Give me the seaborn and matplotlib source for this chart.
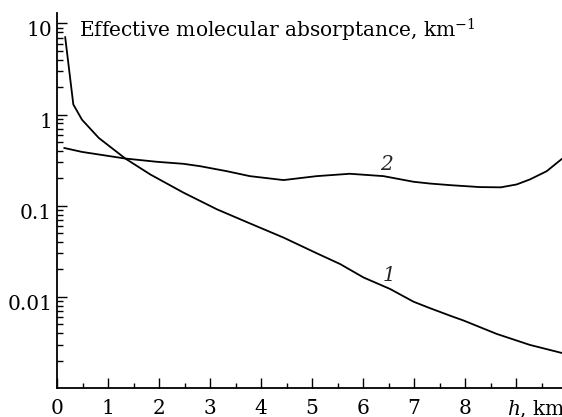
import numpy as np
import pandas as pd
import matplotlib
matplotlib.use("Agg")
import matplotlib.pyplot as plt
import matplotlib.transforms as mtransforms
import seaborn as sns

# Curve 1
h1 = [0.16, 0.32, 0.49, 0.82, 1.34, 1.83, 2.48, 3.14, 3.78, 4.44, 5.09, 5.55, 6.01, 6.53, 6.99, 7.31, 7.71, 7.97, 8.62, 9.27, 9.9]
k1 = [7.1, 1.29, 0.877, 0.553, 0.329, 0.220, 0.139, 0.091, 0.064, 0.0447, 0.0301, 0.0229, 0.0163, 0.0122, 0.00884, 0.00752, 0.0062, 0.0055, 0.00392, 0.00297, 0.00242]
# Curve 2
h2 = [0.14, 0.49, 1.34, 1.96, 2.48, 2.81, 3.33, 3.78, 4.44, 5.09, 5.74, 6.40, 6.99, 7.31, 7.71, 8.29, 8.7, 9.01, 9.27, 9.6, 9.9]
k2 = [0.43, 0.389, 0.329, 0.303, 0.288, 0.271, 0.239, 0.211, 0.191, 0.211, 0.224, 0.211, 0.183, 0.175, 0.168, 0.160, 0.159, 0.171, 0.194, 0.239, 0.327]

xtick_vals = [0, 1, 2, 3, 4, 5, 6, 7, 8]
xtick_labels = ["0", "1", "2", "3", "4", "5", "6", "7", "8"]
ytick_vals = [0.01, 0.1, 1, 10]
ytick_labels = ["0.01", "0.1", "1", "10"]
title = "Effective molecular absorptance, km$^{-1}$"
xlabel = "$h$, km"
curve_labels = ["1", "2"]

sns.set_theme(style="ticks")
plt.rcParams["font.family"] = ["DejaVu Serif"]
plt.rcParams["mathtext.fontset"] = "dejavuserif"

df = pd.concat([
    pd.DataFrame({"h": h1, "k": k1, "curve": "1"}),
    pd.DataFrame({"h": h2, "k": k2, "curve": "2"}),
])

W, H = 562, 417
fig = plt.figure(figsize=(W / 100, H / 100), dpi=100)
ax = fig.add_axes([57 / W, (H - 388) / H, 505 / W, (388 - 13) / H])

sns.lineplot(data=df, x="h", y="k", units="curve", estimator=None,
             color="black", lw=1.3, ax=ax, legend=False, sort=False)
ax.set_yscale("log")
ax.set_xlim(0, 9.9)
ax.set_ylim(0.001, 13)

ax.set_xticks(xtick_vals + [9])
ax.set_xticklabels(xtick_labels + [""])
ax.set_xticks(np.arange(0.5, 10, 1.0), minor=True)
ax.set_yticks(ytick_vals)
ax.set_yticklabels(ytick_labels)
ax.yaxis.set_minor_locator(matplotlib.ticker.LogLocator(base=10, subs=np.arange(2, 10)))
ax.yaxis.set_minor_formatter(matplotlib.ticker.NullFormatter())

fs = 14.5
ax.tick_params(axis="both", which="major", direction="in", length=7.5, width=1.0,
               labelsize=fs, color="black", labelcolor="black")
ax.tick_params(axis="both", which="minor", direction="in", length=3.5, width=1.0, color="black")
ax.tick_params(axis="y", which="major", pad=3.5)
ax.tick_params(axis="y", which="minor", length=4)
ax.tick_params(axis="x", which="major", pad=8)

for lab in ax.get_yticklabels():
    lab.set_verticalalignment("top")
    lab.set_transform(lab.get_transform() + mtransforms.ScaledTranslation(0, 2 / 100, fig.dpi_scale_trans))

for s in ["top", "right"]:
    ax.spines[s].set_visible(False)
for s in ["left", "bottom"]:
    ax.spines[s].set_linewidth(1.3)
    ax.spines[s].set_color("black")

ax.set_xlabel("")
ax.set_ylabel("")

trans = mtransforms.blended_transform_factory(ax.transData, fig.transFigure)
ax.text(8.83, (H - 420) / H, xlabel, transform=trans, fontsize=fs,
        ha="left", va="bottom", color="black")

fig.text(79 / W, (H - 37) / H, title, fontsize=fs, ha="left", va="baseline", color="black")

ax.text(6.5, 0.017, curve_labels[0], fontsize=fs, style="italic", ha="center", va="center")
ax.text(6.46, 0.284, curve_labels[1], fontsize=fs, style="italic", ha="center", va="center")

fig.savefig("out.png", dpi=100)
